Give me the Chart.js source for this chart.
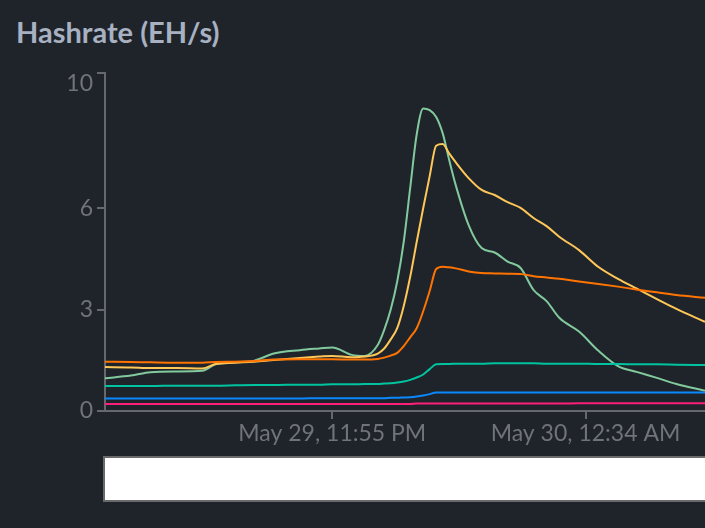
<!DOCTYPE html>
<html lang="en">
<head>
    <meta charset="UTF-8">
    <title>Hashrate (EH/s)</title>
    <script src="https://cdn.jsdelivr.net/npm/chart.js"></script>
    <style>
        body {
            margin: 0;
            background-color: #1f242b;
            overflow: hidden;
            font-family: "Lato", sans-serif;
        }

        .title {
            position: absolute;
            left: 16px;
            top: 17px;
            font-size: 29px;
            line-height: 1;
            font-weight: bold;
            color: #a7b1c1;
        }

        .chart-box {
            position: absolute;
            left: 0;
            top: 0;
            width: 705px;
            height: 528px;
        }

        /* empty legend strip under the chart */
        .legend-box {
            position: absolute;
            left: 103px;
            top: 456px;
            width: 640px;
            height: 46px;
            box-sizing: border-box;
            background: #ffffff;
            border: 2px solid #6a6a6a;
        }
    </style>
</head>
<body>

    <div class="title">Hashrate (EH/s)</div>
    <div class="chart-box">
        <canvas id="hashChart" width="705" height="528"></canvas>
    </div>
    <div class="legend-box"></div>

    <script>
        // minutes after May 29, 11:20 PM
        const minutes = [0, 4, 7, 11, 15, 17, 20, 23, 26, 30, 33, 35, 38, 40, 42, 43, 44, 45, 46, 47, 48,
                         49, 50, 51, 52, 53, 54, 56, 58, 60, 62, 64, 66, 68, 70, 73, 76, 79, 82, 85, 88, 92.4];

        const tickMinutes = [35, 74];
        const tickLabels = ["May 29, 11:55 PM", "May 30, 12:34 AM"];
        const yTicks = [0, 3, 6, 10];

        const greenSeries = [0.97, 1.05, 1.15, 1.17, 1.19, 1.38, 1.44, 1.49, 1.70, 1.80, 1.85, 1.88, 1.66, 1.63, 1.95, 2.40,
                             3.0, 3.83, 5.0, 6.6, 8.18, 8.95, 8.9, 8.7, 8.22, 7.43, 6.69, 5.50, 4.82, 4.69, 4.42, 4.23,
                             3.58, 3.25, 2.75, 2.35, 1.78, 1.33, 1.15, 0.98, 0.80, 0.60];
        const yellowSeries = [1.30, 1.29, 1.27, 1.27, 1.26, 1.39, 1.43, 1.46, 1.51, 1.57, 1.61, 1.63, 1.59, 1.61, 1.70, 1.85,
                              2.12, 2.45, 3.1, 3.97, 5.0, 6.0, 6.95, 7.85, 7.9, 7.62, 7.36, 6.89, 6.54, 6.39, 6.18, 6.01,
                              5.71, 5.47, 5.15, 4.76, 4.26, 3.91, 3.61, 3.31, 3.02, 2.64];
        const orangeSeries = [1.46, 1.45, 1.44, 1.43, 1.43, 1.45, 1.46, 1.48, 1.52, 1.53, 1.53, 1.53, 1.52, 1.52, 1.54, 1.58,
                              1.64, 1.72, 1.92, 2.18, 2.45, 2.95, 3.55, 4.2, 4.27, 4.25, 4.22, 4.13, 4.08, 4.07, 4.06, 4.05,
                              3.99, 3.95, 3.91, 3.83, 3.76, 3.68, 3.59, 3.51, 3.43, 3.35];
        const tealSeries = [0.74, 0.74, 0.74, 0.75, 0.75, 0.75, 0.76, 0.77, 0.77, 0.78, 0.78, 0.79, 0.79, 0.80, 0.80, 0.81,
                            0.82, 0.84, 0.87, 0.92, 0.99, 1.08, 1.24, 1.38, 1.39, 1.39, 1.40, 1.40, 1.40, 1.41, 1.41, 1.41,
                            1.41, 1.40, 1.40, 1.40, 1.39, 1.39, 1.38, 1.38, 1.37, 1.36];
        const blueSeries = [0.37, 0.37, 0.37, 0.37, 0.37, 0.37, 0.37, 0.37, 0.37, 0.37, 0.38, 0.38, 0.38, 0.38, 0.38, 0.38,
                            0.39, 0.39, 0.40, 0.41, 0.43, 0.46, 0.50, 0.55, 0.55, 0.55, 0.55, 0.55, 0.55, 0.55, 0.55, 0.55,
                            0.55, 0.55, 0.55, 0.55, 0.55, 0.55, 0.55, 0.55, 0.55, 0.55];
        const pinkSeries = [0.21, 0.21, 0.21, 0.21, 0.21, 0.21, 0.21, 0.21, 0.21, 0.21, 0.21, 0.21, 0.21, 0.21, 0.21, 0.21,
                            0.21, 0.21, 0.21, 0.21, 0.22, 0.22, 0.22, 0.22, 0.22, 0.22, 0.22, 0.22, 0.22, 0.22, 0.22, 0.22,
                            0.22, 0.22, 0.22, 0.23, 0.23, 0.23, 0.23, 0.23, 0.23, 0.23];

        function toPoints(values) {
            return values.map((v, i) => ({ x: minutes[i], y: v }));
        }

        function makeLine(label, values, color) {
            return {
                label: label,
                data: toPoints(values),
                borderColor: color,
                borderWidth: 2,
                pointRadius: 0,
                fill: false,
                cubicInterpolationMode: "monotone"
            };
        }

        const axisColor = "#65696f";
        const tickColor = "#707478";

        const ctx = document.getElementById("hashChart").getContext("2d");
        new Chart(ctx, {
            type: "line",
            data: {
                datasets: [
                    makeLine("Pool 6", pinkSeries, "#ff1f7a"),
                    makeLine("Pool 5", blueSeries, "#0a88fe"),
                    makeLine("Pool 4", tealSeries, "#00c49f"),
                    makeLine("Pool 3", orangeSeries, "#ff7300"),
                    makeLine("Pool 2", yellowSeries, "#ffc658"),
                    makeLine("Pool 1", greenSeries, "#82ca9d")
                ]
            },
            options: {
                responsive: false,
                animation: false,
                layout: { padding: { top: 73, left: 0, right: 0, bottom: 0 } },
                plugins: {
                    legend: { display: false },
                    tooltip: { enabled: false }
                },
                scales: {
                    x: {
                        type: "linear",
                        min: 0,
                        max: 92.4,
                        afterBuildTicks: s => { s.ticks = tickMinutes.map(v => ({ value: v })); },
                        afterFit: s => { s.height = 117; },
                        grid: { drawOnChartArea: false, color: axisColor, tickLength: 8, lineWidth: 2 },
                        border: { color: axisColor, width: 2 },
                        ticks: {
                            color: tickColor,
                            font: { family: "Lato", size: 23 },
                            padding: 1,
                            maxRotation: 0,
                            autoSkip: false,
                            callback: (v, i) => tickLabels[i]
                        }
                    },
                    y: {
                        min: 0,
                        max: 10,
                        afterBuildTicks: s => { s.ticks = yTicks.map(v => ({ value: v })); },
                        afterFit: s => { s.width = 105; },
                        grid: { drawOnChartArea: false, color: axisColor, tickLength: 8, lineWidth: 2 },
                        border: { color: axisColor, width: 2 },
                        ticks: {
                            color: tickColor,
                            font: { family: "Lato", size: 23, lineHeight: 0.9 },
                            padding: 4,
                            // top label sits just below its tick
                            callback: v => (v === 10 ? ["", "10"] : String(v))
                        }
                    }
                }
            }
        });
    </script>

</body>
</html>
